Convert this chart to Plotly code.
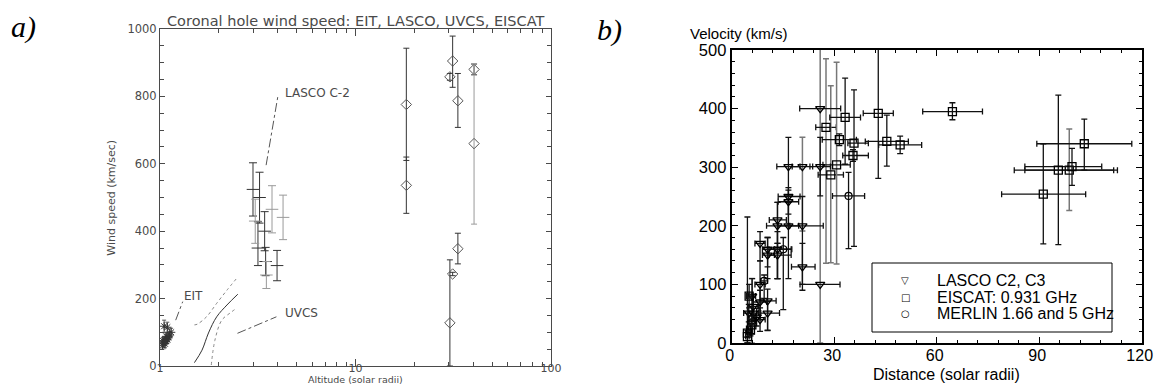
import plotly.graph_objects as go

# ---------------- Panel a data ----------------
eit_alt = [1.03, 1.04, 1.05, 1.06, 1.07, 1.08, 1.09, 1.10, 1.05, 1.09, 1.12, 1.14, 1.035, 1.075]
eit_speed = [60, 68, 72, 66, 75, 80, 78, 85, 118, 115, 92, 100, 75, 88]
eit_err = [10, 12, 10, 12, 10, 12, 10, 12, 18, 15, 10, 12, 10, 10]

lasco_a_alt_dark = [2.99, 3.17, 3.23, 3.43, 3.47, 3.97]
lasco_a_speed_dark = [524, 350, 500, 400, 310, 298]
lasco_a_up_dark = [79, 78, 75, 58, 42, 45]
lasco_a_dn_dark = [79, 52, 76, 58, 42, 45]

lasco_a_alt_gray = [3.07, 3.50, 3.74, 4.26]
lasco_a_speed_gray = [430, 270, 465, 441]
lasco_a_up_gray = [65, 40, 70, 66]
lasco_a_dn_gray = [66, 40, 70, 66]

uvcs_alt = [1.5, 1.64, 1.77, 1.95, 2.2, 2.5]
uvcs_speed = [10, 47, 98, 146, 181, 213]
uvcs_hi_alt = [1.5, 1.55, 1.73, 1.95, 2.2, 2.45]
uvcs_hi_speed = [122, 124, 146, 186, 225, 258]
uvcs_lo_alt = [1.83, 1.91, 2.07, 2.28, 2.47]
uvcs_lo_speed = [3, 77, 136, 157, 172]

eiscat_a_alt_dark = [18.2, 18.2, 30.4, 30.4, 31.4, 31.4, 33.4, 33.4, 40.4]
eiscat_a_speed_dark = [776, 536, 858, 128, 905, 273, 787, 348, 880]
eiscat_a_up_dark = [167, 84, 10, 187, 74, 5, 81, 46, 16]
eiscat_a_dn_dark = [166, 83, 10, 128, 78, 5, 79, 45, 16]
eiscat_a_alt_gray = [40.4]
eiscat_a_speed_gray = [660]
eiscat_a_up_gray = [237]
eiscat_a_dn_gray = [239]

eit_leader_alt = [1.203, 1.307]
eit_leader_speed = [136, 191]
uvcs_leader_alt = [2.49, 3.94]
uvcs_leader_speed = [97, 146]
lasco_leader_alt = [3.49, 4.01]
lasco_leader_speed = [596, 801]

# ---------------- Panel b data ----------------
lasco_x = [25.9, 25.9, 16.6, 16.6, 16.6, 20.7, 16.6, 13.4, 13.4, 20.7, 10.5, 13.4, 10.5, 13.4,
           8.3, 8.3, 8.3, 10.5, 10.5, 8.3, 6.3, 6.3, 5.0, 7.3, 6.0]
lasco_v = [400, 301, 301, 250, 241, 200, 200, 210, 200, 130, 160, 160, 150, 150,
           170, 100, 70, 72, 51, 40, 62, 51, 51, 44, 80]
lasco_xm = [6, 3, 3.4, 3, 3, 3.7, 3, 2.4, 3.2, 3.2, 1.5, 2.5, 1.5, 2.5,
            1.5, 1.5, 2, 2, 2, 1.5, 1.5, 1.5, 1.5, 1, 1]
lasco_xp = [6, 3, 3.4, 3.4, 3, 6.1, 3, 2.6, 3.2, 3.7, 2, 4, 2, 4,
            1.5, 1.5, 2, 2.5, 3.5, 1.5, 1.5, 1.5, 1.5, 1, 1]
lasco_yp = [0, 50, 50, 15, 20, 50, 40, 30, 40, 40, 20, 30, 30, 20,
            20, 40, 20, 20, 20, 20, 20, 15, 15, 15, 30]
lasco_ym = [0, 50, 50, 30, 40, 100, 90, 40, 90, 40, 30, 50, 40, 40,
            30, 60, 30, 50, 30, 20, 20, 15, 15, 15, 40]

lasco_gray_x = [20.7, 25.9]
lasco_gray_v = [301, 100]
lasco_gray_xm = [3, 5.9]
lasco_gray_xp = [3, 5.8]
lasco_gray_yp = [50, 420]
lasco_gray_ym = [110, 100]

eiscat_x = [5.1, 4.6, 4.6, 5.9, 5.5, 31.5, 33.2, 35.8, 35.5, 42.9, 45.4, 49.3, 64.6,
            103.2, 95.6, 99.6, 91.2]
eiscat_v = [80, 17, 11, 31, 22, 347, 385, 341, 320, 392, 344, 338, 395,
            340, 295, 301, 254]
eiscat_xm = [0.8, 0.5, 0.5, 0.8, 0.6, 5, 4.5, 1.8, 3, 4.4, 6.3, 6.3, 8.7,
             13.9, 12.9, 13.8, 12.2]
eiscat_xp = [0.8, 0.5, 0.5, 0.8, 0.6, 5, 4.5, 4.2, 4.5, 4.4, 6.3, 6.3, 8.8,
             13.9, 17.3, 8.7, 12.4]
eiscat_yp = [20, 198, 10, 15, 10, 10, 67, 91, 10, 150, 45, 15, 15,
             42, 128, 31, 86]
eiscat_ym = [20, 17, 11, 15, 10, 10, 80, 176, 10, 111, 42, 15, 14,
             45, 127, 32, 85]

eiscat_gray_x = [5.9, 27.6, 29.0, 30.7, 98.8]
eiscat_gray_v = [40, 368, 287, 304, 295]
eiscat_gray_xm = [0.8, 3, 3.7, 4, 13]
eiscat_gray_xp = [0.8, 3, 3.7, 4, 13]
eiscat_gray_yp = [70, 117, 152, 175, 70]
eiscat_gray_ym = [40, 232, 150, 169, 69]

merlin_x = [34.2, 15.1, 9.5]
merlin_v = [251, 160, 106]
merlin_xm = [4.7, 2.5, 1]
merlin_xp = [4.7, 2.5, 1]
merlin_yp = [40, 20, 10]
merlin_ym = [90, 103, 30]

legend_labels = ["LASCO C2, C3", "EISCAT: 0.931 GHz", "MERLIN 1.66 and 5 GHz"]
legend_symbols = ["\u25BD", "\u25A1", "\u25CB"]

# ---------------- Styling ----------------
GA = "#4a4a4a"
GL = "#9a9a9a"
FA = "DejaVu Sans"
FB = "Liberation Sans"

fig = go.Figure()


def err(up, dn, color, width=3, thick=1):
    return dict(type="data", symmetric=False, array=up, arrayminus=dn,
                color=color, thickness=thick, width=width)


# Panel a traces
fig.add_trace(go.Scatter(x=eit_alt, y=eit_speed, mode="markers", xaxis="x", yaxis="y",
                         marker=dict(symbol="asterisk-open", size=7, color="#333",
                                     line=dict(width=1, color="#333")),
                         error_y=err(eit_err, eit_err, "#555", 2)))
for xs, ys, up, dn, col in [(lasco_a_alt_dark, lasco_a_speed_dark, lasco_a_up_dark, lasco_a_dn_dark, "#333"),
                            (lasco_a_alt_gray, lasco_a_speed_gray, lasco_a_up_gray, lasco_a_dn_gray, GL)]:
    fig.add_trace(go.Scatter(x=xs, y=ys, mode="markers", xaxis="x", yaxis="y",
                             marker=dict(symbol="line-ew", size=9, color=col,
                                         line=dict(width=1, color=col)),
                             error_y=err(up, dn, col, 4)))
for xs, ys, up, dn, col in [(eiscat_a_alt_dark, eiscat_a_speed_dark, eiscat_a_up_dark, eiscat_a_dn_dark, "#333"),
                            (eiscat_a_alt_gray, eiscat_a_speed_gray, eiscat_a_up_gray, eiscat_a_dn_gray, GL)]:
    fig.add_trace(go.Scatter(x=xs, y=ys, mode="markers", xaxis="x", yaxis="y",
                             marker=dict(symbol="diamond-open", size=8, color="#555",
                                         line=dict(width=1, color="#555")),
                             error_y=err(up, dn, col, 3)))
fig.add_trace(go.Scatter(x=uvcs_alt, y=uvcs_speed, mode="lines", xaxis="x", yaxis="y",
                         line=dict(color="#333", width=1, shape="spline")))
for xs, ys in [(uvcs_hi_alt, uvcs_hi_speed), (uvcs_lo_alt, uvcs_lo_speed)]:
    fig.add_trace(go.Scatter(x=xs, y=ys, mode="lines", xaxis="x", yaxis="y",
                             line=dict(color="#888", width=1, dash="dot", shape="spline")))
for xs, ys in [(eit_leader_alt, eit_leader_speed), (uvcs_leader_alt, uvcs_leader_speed),
               (lasco_leader_alt, lasco_leader_speed)]:
    fig.add_trace(go.Scatter(x=xs, y=ys, mode="lines", xaxis="x", yaxis="y",
                             line=dict(color="#555", width=1, dash="dashdot")))

# Panel b traces
TRI = dict(symbol="triangle-down-open", size=8, color="black", line=dict(width=1.3, color="black"))
SQ = dict(symbol="square-open", size=8, color="black", line=dict(width=1.3, color="black"))
CI = dict(symbol="circle-open", size=7, color="black", line=dict(width=1.2, color="black"))

fig.add_trace(go.Scatter(x=lasco_gray_x, y=lasco_gray_v, mode="markers", xaxis="x2", yaxis="y2",
                         marker=TRI, error_y=err(lasco_gray_yp, lasco_gray_ym, "#777", 3, 1.5),
                         error_x=err(lasco_gray_xp, lasco_gray_xm, "#111", 3, 1.3)))
fig.add_trace(go.Scatter(x=eiscat_gray_x, y=eiscat_gray_v, mode="markers", xaxis="x2", yaxis="y2",
                         marker=SQ, error_y=err(eiscat_gray_yp, eiscat_gray_ym, "#777", 3, 1.5),
                         error_x=err(eiscat_gray_xp, eiscat_gray_xm, "#111", 3, 1.3)))
fig.add_trace(go.Scatter(x=lasco_x, y=lasco_v, mode="markers", xaxis="x2", yaxis="y2",
                         name=legend_labels[0], marker=TRI,
                         error_y=err(lasco_yp, lasco_ym, "#111", 3, 1.3),
                         error_x=err(lasco_xp, lasco_xm, "#111", 3, 1.3)))
fig.add_trace(go.Scatter(x=eiscat_x, y=eiscat_v, mode="markers", xaxis="x2", yaxis="y2",
                         name=legend_labels[1], marker=SQ,
                         error_y=err(eiscat_yp, eiscat_ym, "#111", 3, 1.3),
                         error_x=err(eiscat_xp, eiscat_xm, "#111", 3, 1.3)))
fig.add_trace(go.Scatter(x=merlin_x, y=merlin_v, mode="markers", xaxis="x2", yaxis="y2",
                         name=legend_labels[2], marker=CI,
                         error_y=err(merlin_yp, merlin_ym, "#111", 3, 1.3),
                         error_x=err(merlin_xp, merlin_xm, "#111", 3, 1.3)))

W, H = 1154, 385
ax_a = (160, 551, 29, 366)
ax_b = (731.7, 1141.7, 50, 343)


def px(x):
    return x / W


def py(y):
    return 1 - y / H


minor_log = [2, 3, 4, 5, 6, 7, 8, 9, 20, 30, 40, 50, 60, 70, 80, 90]

fig.update_layout(
    width=W, height=H, margin=dict(l=0, r=0, t=0, b=0, autoexpand=False),
    paper_bgcolor="white", plot_bgcolor="white", showlegend=False,
    xaxis=dict(domain=[px(ax_a[0]), px(ax_a[1])], type="log", range=[0, 2], anchor="y",
               tickvals=[1, 10, 100], ticktext=["1", "10", "100"], automargin=False,
               ticks="inside", ticklen=7, tickcolor=GA, showline=True, linecolor=GA,
               linewidth=1, mirror="ticks", showgrid=False, zeroline=False,
               ticklabelstandoff=-8, ticklabeloverflow="allow",
               tickfont=dict(family=FA, size=11, color=GA),
               minor=dict(tickvals=minor_log, ticks="inside", ticklen=4, tickcolor=GA, showgrid=False)),
    yaxis=dict(domain=[py(ax_a[3]), py(ax_a[2])], range=[0, 1000], anchor="x",
               tickvals=[0, 200, 400, 600, 800, 1000], automargin=False,
               ticks="inside", ticklen=5, tickcolor=GA, showline=True, linecolor=GA,
               linewidth=1, mirror="ticks", showgrid=False, zeroline=False,
               ticklabeloverflow="allow",
               tickfont=dict(family=FA, size=11.5, color=GA),
               minor=dict(dtick=50, ticks="inside", ticklen=4, tickcolor=GA, showgrid=False)),
    xaxis2=dict(domain=[px(ax_b[0]), px(ax_b[1])], range=[0, 120], anchor="y2",
                tickvals=[0, 30, 60, 90, 120], automargin=False,
                ticks="inside", ticklen=6, tickcolor="black", showline=True, linecolor="black",
                linewidth=2, mirror="ticks", showgrid=False, zeroline=False,
                ticklabelstandoff=-3, ticklabelshift=-2, ticklabeloverflow="allow",
                tickfont=dict(family=FB, size=16, color="black"),
                minor=dict(dtick=6, ticks="inside", ticklen=3, tickcolor="black", showgrid=False)),
    yaxis2=dict(domain=[py(ax_b[3]), py(ax_b[2])], range=[0, 500], anchor="x2",
                tickvals=[0, 100, 200, 300, 400, 500], automargin=False,
                ticks="inside", ticklen=6, tickcolor="black", showline=True, linecolor="black",
                linewidth=2, mirror="ticks", showgrid=False, zeroline=False,
                ticklabeloverflow="allow",
                tickfont=dict(family=FB, size=16.5, color="black"),
                minor=dict(dtick=20, ticks="inside", ticklen=3, tickcolor="black", showgrid=False)),
)


def pa(text, x, y, font, **kw):
    d = dict(text=text, x=px(x), y=py(y), xref="paper", yref="paper", showarrow=False,
             xanchor="center", yanchor="middle", font=font)
    d.update(kw)
    return d


def da(text, xpix, v, font):
    return dict(text=text, x=(xpix - 160) / 195, y=v, xref="x", yref="y", showarrow=False,
                xanchor="left", yanchor="middle", font=font)


fa12 = dict(family=FA, size=12, color=GA)
ann = [
    pa("<i>a)</i>", 23.5, 27, dict(family="Liberation Serif", size=30, color="black")),
    pa("<i>b)</i>", 609, 30, dict(family="Liberation Serif", size=30, color="black")),
    pa("Coronal hole wind speed: EIT, LASCO, UVCS, EISCAT", 355.5, 21, dict(family=FA, size=14.5, color=GA)),
    pa("Wind speed (km/sec)", 111.7, 198, dict(family=FA, size=11, color=GA), textangle=-90),
    pa("Altitude (solar radii)", 355, 379.5, dict(family=FA, size=9.5, color=GA)),
    da("EIT", 182, 208, fa12),
    da("UVCS", 283, 157, fa12),
    da("LASCO C-2", 283, 810, fa12),
    pa("Velocity (km/s)", 739, 33, dict(family=FB, size=15, color="black")),
    pa("Distance (solar radii)", 946, 374, dict(family=FB, size=16, color="black")),
]
rows = [280, 297, 313.5]
for lab, sym, yy in zip(legend_labels, legend_symbols, rows):
    ann.append(pa(sym, 905, yy, dict(family=FA, size=10, color="black")))
    ann.append(pa(lab, 935, yy, dict(family=FB, size=16, color="black"), xanchor="left"))
fig.update_layout(annotations=ann)

fig.add_shape(type="rect", xref="paper", yref="paper", x0=px(872), x1=px(1112), y0=py(332), y1=py(263),
              line=dict(color="black", width=1), fillcolor="white", layer="above")

fig.write_html("out.html")
